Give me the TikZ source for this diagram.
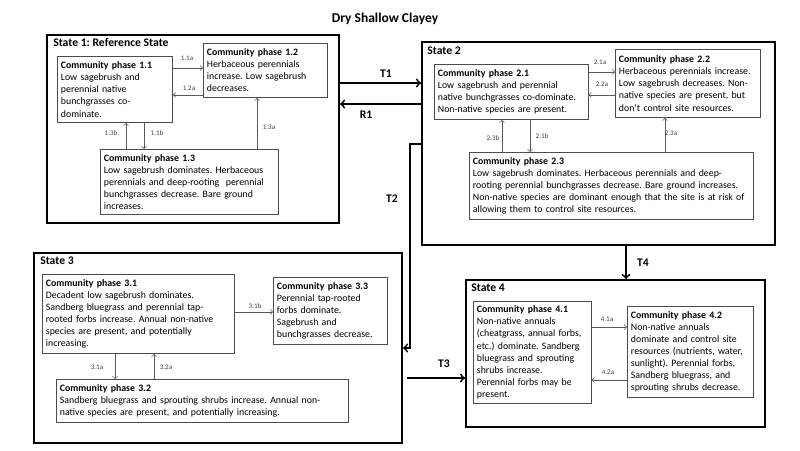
\documentclass[tikz,border=0pt]{standalone}
\usepackage{fontspec}
\setmainfont{Carlito}
\frenchspacing
\usetikzlibrary{positioning}
\tikzset{
  statebox/.style={draw, line width=1.4pt, anchor=north west, inner sep=0pt},
  statetitle/.style={anchor=north west, font=\fontsize{8.3}{9.5}\selectfont\bfseries, inner sep=0pt},
  phase/.style={draw=black!70, line width=0.6pt, anchor=north west, align=left,
    inner xsep=2.5pt, inner ysep=2pt, font=\fontsize{7}{8.6}\selectfont},
  pha/.style={draw=black!65, line width=0.5pt, -to},
  plabel/.style={font=\fontsize{5}{6}\selectfont, text=black!75, inner sep=0pt},
  trans/.style={draw, line width=1.3pt, -to},
  tlabel/.style={font=\fontsize{8.3}{9.5}\selectfont\bfseries, inner sep=0pt}
}
\begin{document}
\begin{tikzpicture}[x=0.025cm, y=-0.025cm]
\useasboundingbox (0,0) rectangle (800,450);

% title
\node[font=\fontsize{9.6}{11}\selectfont\bfseries] (title) at (385,19) {Dry Shallow Clayey};

% states
\node[statebox, minimum width=7.3cm, minimum height=4.7cm] (s1) at (46,34) {};
\node[statebox, minimum width=8.825cm, minimum height=5.075cm] (s2) at (421,41) {};
\node[statebox, minimum width=9.2cm, minimum height=4.75cm] (s3) at (33,252) {};
\node[statebox, minimum width=7.475cm, minimum height=3.675cm] (s4) at (465,279) {};

\node[statetitle] (s1t) at (53,38) {State 1: Reference State};
\node[statetitle] (s2t) at (427,47) {State 2};
\node[statetitle] (s3t) at (40,257) {State 3};
\node[statetitle] (s4t) at (471,284) {State 4};

% state 1
\node[phase, text width=2.70cm, minimum height=1.65cm] (p11) at (57,56)
  {\textbf{Community phase 1.1}\\Low sagebrush and\\perennial native\\bunchgrasses co-\\dominate.};
\node[phase, text width=2.92cm, minimum height=1.35cm] (p12) at (203,43)
  {\textbf{Community phase 1.2}\\Herbaceous perennials\\increase. Low sagebrush\\decreases.};
\node[phase, text width=4.27cm, minimum height=1.625cm] (p13) at (100,149)
  {\textbf{Community phase 1.3}\\Low sagebrush dominates. Herbaceous\\perennials and deep-rooting\ \ perennial\\bunchgrasses decrease. Bare ground\\increases.};

% state 2
\node[phase, text width=3.67cm, minimum height=1.375cm] (p21) at (434,64)
  {\textbf{Community phase 2.1}\\Low sagebrush and perennial\\native bunchgrasses co-dominate.\\Non-native species are present.};
\node[phase, text width=3.45cm, minimum height=1.7cm] (p22) at (615,49)
  {\textbf{Community phase 2.2}\\Herbaceous perennials increase.\\Low sagebrush decreases. Non-\\native species are present, but\\don’t control site resources.};
\node[phase, text width=6.92cm, minimum height=1.675cm] (p23) at (469,152)
  {\textbf{Community phase 2.3}\\Low sagebrush dominates. Herbaceous perennials and deep-\\rooting perennial bunchgrasses decrease. Bare ground increases.\\Non-native species are dominant enough that the site is at risk of\\allowing them to control site resources.};

% state 3
\node[phase, text width=4.62cm, minimum height=1.975cm] (p31) at (42,274)
  {\textbf{Community phase 3.1}\\Decadent low sagebrush dominates.\\Sandberg bluegrass and perennial tap-\\rooted forbs increase. Annual non-native\\species are present, and potentially\\increasing.};
\node[phase, text width=2.67cm, minimum height=1.675cm] (p33) at (273,277)
  {\textbf{Community phase 3.3}\\Perennial tap-rooted\\forbs dominate.\\Sagebrush and\\bunchgrasses decrease.};
\node[phase, text width=7.12cm, minimum height=1.075cm] (p32) at (56,379)
  {\textbf{Community phase 3.2}\\Sandberg bluegrass and sprouting shrubs increase. Annual non-\\native species are present, and potentially increasing.};

% state 4
\node[phase, text width=2.77cm, minimum height=2.55cm] (p41) at (473,301)
  {\textbf{Community phase 4.1}\\Non-native annuals\\(cheatgrass, annual forbs,\\etc.) dominate. Sandberg\\bluegrass and sprouting\\shrubs increase.\\Perennial forbs may be\\present.};
\node[phase, text width=2.97cm, minimum height=2.275cm] (p42) at (627,306)
  {\textbf{Community phase 4.2}\\Non-native annuals\\dominate and control site\\resources (nutrients, water,\\sunlight). Perennial forbs,\\Sandberg bluegrass, and\\sprouting shrubs decrease.};

% phase pathways
\draw[pha] (p11.east |- 0,68) -- (p12.west |- 0,68);
\draw[pha] (p12.west |- 0,95) -- (p11.east |- 0,95);
\draw[pha] (p13.north -| 126,0) -- (p11.south -| 126,0);
\draw[pha] (p11.south -| 144,0) -- (p13.north -| 144,0);
\draw[pha] (p13.north -| 257,0) -- (p12.south -| 257,0);
\node[plabel] (l11a) at (187,58) {1.1a};
\node[plabel] (l12a) at (189,88) {1.2a};
\node[plabel] (l13b) at (111,133) {1.3b};
\node[plabel] (l11b) at (157,133) {1.1b};
\node[plabel] (l13a) at (269,127) {1.3a};

\draw[pha] (p21.east |- 0,72) -- (p22.west |- 0,72);
\draw[pha] (p22.west |- 0,95) -- (p21.east |- 0,95);
\draw[pha] (p23.north -| 502,0) -- (p21.south -| 502,0);
\draw[pha] (p21.south -| 530,0) -- (p23.north -| 530,0);
\draw[pha] (p23.north -| 665,0) -- (p22.south -| 665,0);
\node[plabel] (l21a) at (600,62) {2.1a};
\node[plabel] (l22a) at (602,84) {2.2a};
\node[plabel] (l23b) at (493,138) {2.3b};
\node[plabel] (l21b) at (542,136) {2.1b};
\node[plabel] (l23a) at (671,133) {2.3a};

\draw[pha] (p31.east |- 0,312) -- (p33.west |- 0,312);
\draw[pha] (p31.south -| 115,0) -- (p32.north -| 115,0);
\draw[pha] (p32.north -| 154,0) -- (p31.south -| 154,0);
\node[plabel] (l31b) at (255,306) {3.1b};
\node[plabel] (l31a) at (97,367) {3.1a};
\node[plabel] (l32a) at (166,367) {3.2a};

\draw[pha] (p41.east |- 0,327) -- (p42.west |- 0,327);
\draw[pha] (p42.west |- 0,380) -- (p41.east |- 0,380);
\node[plabel] (l41a) at (607,319) {4.1a};
\node[plabel] (l42a) at (608,372) {4.2a};

% transitions
\coordinate (t2a) at (410,144);
\coordinate (t2b) at (410,348);
\draw[trans] (s1.east |- 0,83) -- (s2.west |- 0,83);
\draw[trans] (s2.west |- 0,104) -- (s1.east |- 0,104);
\draw[trans] (s2.west |- t2a) -- (t2a) -- (t2b) -- (s3.east |- t2b);
\draw[trans] ([xshift=0.1cm]s3.east |- 0,378) -- (s4.west |- 0,378);
\draw[trans] (s2.south -| 626,0) -- (s4.north -| 626,0);
\node[tlabel] (lt1) at (386,74) {T1};
\node[tlabel] (lr1) at (366,115) {R1};
\node[tlabel] (lt2) at (392,199) {T2};
\node[tlabel] (lt3) at (444,364) {T3};
\node[tlabel] (lt4) at (643,263) {T4};
\end{tikzpicture}
\end{document}
